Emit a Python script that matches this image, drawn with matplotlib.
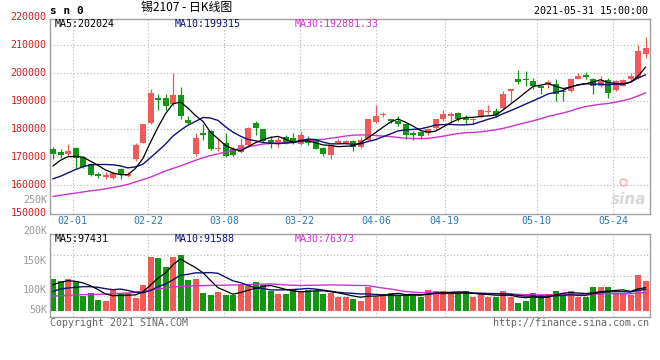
import numpy as np
import pandas as pd
import matplotlib
matplotlib.use('Agg')
import matplotlib.pyplot as plt

# daily candles, prices in thousands (sn2107)
opens = [173.2, 171.9, 171.4, 173.3, 170.2, 167.5, 164.2, 163.1, 162.5, 166.0,
         163.3, 169.3, 175.2, 182.4, 191.3, 191.3, 189.2, 192.3, 183.3, 171.1,
         178.6, 179.4, 172.9, 175.0, 173.1, 171.9, 174.6, 182.4, 180.0, 176.4,
         174.7, 177.4, 177.0, 174.7, 176.4, 176.4, 173.3, 170.8, 175.2, 175.0,
         175.8, 173.8, 176.4, 182.6, 185.0, 183.8, 183.0, 181.8, 178.6, 179.1,
         178.6, 180.6, 183.6, 184.8, 186.0, 184.2, 183.3, 184.5, 186.2, 186.6,
         187.7, 193.7, 198.1, 198.1, 197.3, 195.5, 196.1, 196.1, 193.9, 193.7,
         198.1, 199.6, 198.1, 195.7, 197.6, 194.1, 195.7, 197.9, 198.5, 206.8]
highs = [173.8, 173.1, 174.9, 173.6, 170.5, 167.9, 164.9, 164.9, 164.9, 166.3,
         164.8, 175.2, 181.8, 194.5, 192.5, 192.5, 200.0, 195.2, 184.8, 178.6,
         181.8, 179.8, 177.0, 178.6, 173.8, 177.0, 180.8, 183.2, 180.2, 177.6,
         177.4, 178.1, 178.6, 179.4, 177.6, 177.0, 173.8, 174.9, 176.7, 176.4,
         176.4, 177.4, 183.8, 188.6, 186.4, 183.8, 184.8, 182.0, 179.4, 179.4,
         180.6, 183.8, 187.0, 186.2, 186.2, 185.0, 184.2, 187.4, 188.6, 187.8,
         193.7, 194.5, 201.2, 200.8, 198.5, 195.7, 197.6, 197.9, 194.5, 198.1,
         200.0, 200.6, 198.5, 199.1, 198.5, 197.6, 197.9, 200.2, 210.0, 213.1]
lows = [169.5, 169.9, 170.5, 166.3, 166.4, 163.3, 162.6, 162.4, 162.3, 162.4,
        163.1, 168.7, 175.0, 181.8, 186.8, 187.1, 188.3, 183.6, 182.1, 170.6,
        176.4, 172.5, 172.3, 170.2, 170.6, 171.7, 174.1, 178.2, 175.5, 173.5,
        173.8, 174.7, 174.7, 174.3, 174.5, 172.9, 170.7, 169.3, 174.7, 174.7,
        172.3, 173.5, 176.2, 182.4, 184.3, 182.4, 181.2, 176.7, 176.4, 176.7,
        177.9, 180.2, 183.2, 182.4, 183.2, 182.1, 182.0, 184.2, 185.5, 184.5,
        187.2, 189.8, 196.1, 195.5, 194.3, 192.5, 194.9, 190.1, 190.1, 193.5,
        197.9, 198.1, 192.5, 195.0, 191.3, 193.7, 195.5, 196.9, 198.1, 205.6]
closes = [171.1, 170.8, 172.3, 169.7, 166.7, 163.9, 163.5, 163.9, 164.4, 163.6,
          164.1, 174.6, 181.8, 193.1, 190.4, 188.3, 192.3, 184.8, 182.4, 177.0,
          178.1, 172.9, 173.1, 170.5, 170.8, 174.3, 180.4, 180.4, 175.8, 174.9,
          176.2, 175.2, 175.0, 178.2, 175.0, 173.1, 171.1, 174.3, 175.8, 175.8,
          173.8, 176.4, 183.6, 184.8, 185.5, 183.0, 181.8, 177.9, 177.9, 177.6,
          180.0, 183.6, 185.4, 185.4, 183.8, 183.3, 183.8, 186.9, 186.6, 185.0,
          192.5, 194.3, 197.0, 197.5, 195.5, 194.9, 197.0, 192.5, 193.3, 197.9,
          199.1, 198.8, 195.7, 197.3, 193.1, 197.3, 197.6, 199.1, 208.0, 209.2]

# volume in thousands of lots
volumes = [118.2, 113.5, 118.2, 113.5, 78.6, 84.8, 69.3, 67.0, 92.6, 84.8,
           84.8, 73.2, 104.2, 168.6, 166.2, 145.3, 168.6, 172.4, 115.8, 118.2,
           84.8, 79.4, 87.2, 79.4, 79.4, 104.2, 105.8, 110.4, 102.7, 88.7,
           82.5, 82.5, 94.1, 90.3, 92.6, 90.3, 82.5, 84.4, 76.7, 75.0,
           71.6, 67.0, 98.0, 76.3, 82.5, 84.0, 80.2, 82.5, 80.2, 76.3,
           91.8, 90.2, 90.2, 81.7, 82.5, 90.2, 76.3, 81.7, 76.3, 74.7,
           89.5, 76.3, 62.3, 67.0, 84.0, 80.2, 81.7, 90.2, 85.6, 90.2,
           76.3, 76.3, 98.0, 98.0, 98.0, 84.0, 82.5, 80.2, 126.7, 113.5]

# moving-average values at the left edge (earlier days are off the chart)
ma5_head = [167.0, 169.0, 170.3, 170.4]
ma10_head = [162.4, 163.3, 164.5, 165.7, 166.7, 167.4, 167.5, 167.5, 167.4]
ma30_head = [156.1, 156.5, 156.9, 157.3, 157.7, 158.1, 158.4, 158.8, 159.3, 159.8,
             160.4, 161.3, 162.1, 163.0, 164.1, 165.2, 166.1, 167.0, 168.0, 169.0,
             169.9, 170.7, 171.3, 172.0, 172.6, 173.2, 173.8, 174.3, 174.8]
vma5_head = [104.2, 109.6, 113.5, 112.0]
vma10_head = [88.7, 94.1, 96.5, 98.0, 99.6, 99.6, 98.0, 94.9, 92.6]
vma30_head = [77.9, 78.6, 79.4, 80.2, 81.0, 81.0, 81.7, 82.5, 83.3, 84.1,
              84.8, 86.4, 88.7, 91.8, 94.1, 96.5, 98.8, 100.3, 101.0, 101.5,
              102.0, 102.5, 103.0, 103.0, 103.5, 104.0, 104.5, 105.0, 105.5]

date_labels = ['02-01', '02-22', '03-08', '03-22', '04-06', '04-19', '05-10', '05-24']
date_pos = [2.6, 12.7, 22.8, 32.9, 43.1, 52.2, 64.5, 74.7]
price_levels = [150000, 160000, 170000, 180000, 190000, 200000, 210000, 220000]


def moving_avg(values, n, head):
    s = pd.Series(values, dtype=float).rolling(n).mean().to_numpy()
    s[:len(head)] = head
    return s


RED = '#f25a5a'
GREEN = '#149614'
GRID = '#b4b4b4'
FRAME = '#a0a0a0'
MONO = 'DejaVu Sans Mono'
FS = 7.2

o = np.array(opens) * 1000
h = np.array(highs) * 1000
l = np.array(lows) * 1000
c = np.array(closes) * 1000
v = np.array(volumes)
x = np.arange(len(c))
up = c >= o
colors = np.where(up, RED, GREEN)


def fy(py):
    return 1 - py / 360


fig = plt.figure(figsize=(6.6, 3.6), dpi=100)
fig.patch.set_facecolor('white')

# ---- price panel
ax = fig.add_axes([50 / 660, fy(213.5), 600 / 660, 194.5 / 360])
ax.set_xlim(-0.4, 79.6)
ax.set_ylim(150000, 150000 + 194.5 / 0.0028)
ax.set_xticks([])
ax.set_yticks([])
for s in ax.spines.values():
    s.set_color(FRAME)
    s.set_linewidth(1)

for lev in price_levels[1:-1]:
    ax.axhline(lev, color=GRID, lw=0.8, dashes=(1, 2), zorder=0)
for g in date_pos:
    ax.axvline(g, color=GRID, lw=0.8, dashes=(1, 2), zorder=0)

ax.vlines(x, l, h, colors=colors, lw=0.9, zorder=2)
body_h = np.maximum(np.abs(c - o), 350)
ax.bar(x, body_h, bottom=np.minimum(o, c), width=0.8, color=colors, lw=0, zorder=3)

ma5 = moving_avg(c / 1000, 5, ma5_head) * 1000
ma10 = moving_avg(c / 1000, 10, ma10_head) * 1000
ma30 = moving_avg(c / 1000, 30, ma30_head) * 1000
ax.plot(x, ma30, color='#cc33cc', lw=1, zorder=4)
ax.plot(x, ma10, color='#10107a', lw=1, zorder=4)
ax.plot(x, ma5, color='black', lw=0.9, zorder=5)

for lev in price_levels:
    ax.text(-0.006, lev, str(lev), transform=ax.get_yaxis_transform(), ha='right',
            va='center', color='#c81e1e', family=MONO, fontsize=FS, clip_on=False)
for g, lab in zip(date_pos, date_labels):
    ax.text(g, -0.04, lab, transform=ax.get_xaxis_transform(), ha='center',
            va='center', color='#2a78b4', family=MONO, fontsize=FS, clip_on=False)

ax.text(0.965, 0.07, 'sina', transform=ax.transAxes, ha='center', va='center',
        color='#d8d8d8', fontsize=11, style='italic', weight='bold')
ax.plot([0.955], [0.16], 'o', transform=ax.transAxes, ms=5, mfc='none',
        mec='#f0b8b8', mew=1.2)

# headers
fig.text(50 / 660, fy(11), 's n 0', family=MONO, weight='bold', fontsize=8, va='center')
fig.text(141 / 660, fy(7.5), '锡2107 - 日K线图', family=['Noto Sans CJK SC', 'DejaVu Sans'],
         fontsize=8.6, va='center')
fig.text(648 / 660, fy(11.5), '2021-05-31 15:00:00', family=MONO, fontsize=FS,
         ha='right', va='center')
fig.text(55 / 660, fy(24), 'MA5:202024', family=MONO, fontsize=FS, va='center', color='black')
fig.text(175 / 660, fy(24), 'MA10:199315', family=MONO, fontsize=FS, va='center', color='#10107a')
fig.text(295 / 660, fy(24), 'MA30:192881.33', family=MONO, fontsize=FS, va='center', color='#cc33cc')

# ---- volume panel
vax = fig.add_axes([50 / 660, fy(317.3), 600 / 660, 83.3 / 360])
vol_base = 43.7
vax.set_xlim(-0.4, 79.6)
vax.set_ylim(vol_base - 6.6 / 0.43, vol_base + 76.7 / 0.43)
vax.set_xticks([])
vax.set_yticks([])
for s in vax.spines.values():
    s.set_color(FRAME)
    s.set_linewidth(1)
for f in [0.25, 0.5, 0.75]:
    vax.plot([0, 1], [f, f], transform=vax.transAxes, color=GRID, lw=0.8,
             dashes=(1, 2), zorder=0)
for g in date_pos:
    vax.axvline(g, color=GRID, lw=0.8, dashes=(1, 2), zorder=0)

vax.bar(x, v - vol_base, bottom=vol_base, width=0.8, color=colors, lw=0, zorder=2)
vax.plot(x, moving_avg(v, 30, vma30_head), color='#cc33cc', lw=1, zorder=3)
vax.plot(x, moving_avg(v, 10, vma10_head), color='#10107a', lw=1, zorder=3)
vax.plot(x, moving_avg(v, 5, vma5_head), color='black', lw=0.9, zorder=4)

for lab, py in [('250K', 200), ('200K', 230.7), ('150K', 261), ('100K', 290), ('50K', 310)]:
    fig.text(47 / 660, fy(py), lab, family=MONO, fontsize=FS, color='#999999',
             ha='right', va='center')
fig.text(55 / 660, fy(238.5), 'MA5:97431', family=MONO, fontsize=FS, va='center', color='black')
fig.text(175 / 660, fy(238.5), 'MA10:91588', family=MONO, fontsize=FS, va='center', color='#10107a')
fig.text(295 / 660, fy(238.5), 'MA30:76373', family=MONO, fontsize=FS, va='center', color='#cc33cc')

fig.text(50 / 660, fy(323.5), 'Copyright 2021 SINA.COM', family=MONO, fontsize=FS,
         color='#666666', va='center')
fig.text(649 / 660, fy(323.5), 'http://finance.sina.com.cn', family=MONO, fontsize=FS,
         color='#666666', ha='right', va='center')

fig.savefig('out.png', dpi=100)
